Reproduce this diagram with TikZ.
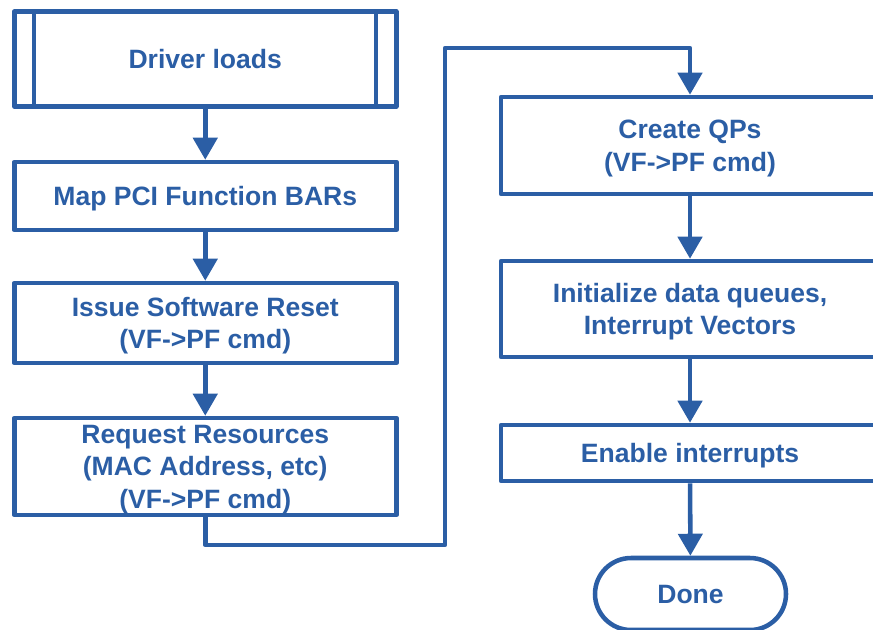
\documentclass[tikz,border=0pt]{standalone}
\usepackage{fontspec}
\setmainfont{Liberation Sans}
\usepackage{tikz}
\usepackage{xcolor}
\usetikzlibrary{positioning, arrows.meta, shapes.misc}

\definecolor{drvblue}{RGB}{43,94,165}

\tikzset{
  flowline/.style={draw=drvblue, line width=3.4pt, line join=round},
  flowarrow/.style={flowline, -{Triangle[length=16.5pt, width=18pt]}},
  flowbox/.style={flowline, rectangle, text=drvblue, align=center, inner sep=0pt,
    text depth=0pt, font=\bfseries\fontsize{19.9pt}{24.4pt}\selectfont},
  leftbox/.style={flowbox, minimum width=286.5pt},
  rightbox/.style={flowbox, minimum width=283.5pt},
  flowend/.style={flowbox, rounded rectangle, minimum width=143.25pt, minimum height=54pt}
}

\begin{document}
\begin{tikzpicture}[x=0.75pt,y=0.75pt,yscale=-1,xscale=1]
\useasboundingbox (0,0) rectangle (873,629);
%Flowchart: Predefined Process
\node[leftbox, minimum height=71.25pt] (drv) at (205.25,59) {Driver loads};
\draw[flowline] ([xshift=16.5pt]drv.north west) -- ([xshift=16.5pt]drv.south west);
\draw[flowline] ([xshift=-17pt]drv.north east) -- ([xshift=-17pt]drv.south east);
%Flowchart: Process
\node[leftbox, minimum height=51pt] (bars) at (205.25,196) {Map PCI Function BARs};
%Flowchart: Process
\node[leftbox, minimum height=60pt] (reset) at (205.25,323) {Issue Software Reset\\(VF->PF cmd)};
%Flowchart: Process
\node[leftbox, minimum height=72.75pt] (resrc) at (205.25,466.5) {Request Resources\\(MAC Address, etc)\\(VF->PF cmd)};
%Flowchart: Process
\node[rightbox, minimum height=72.75pt] (qps) at (690,145.5) {Create QPs\\(VF->PF cmd)};
%Flowchart: Process
\node[rightbox, minimum height=72pt] (initq) at (690,309) {Initialize data queues,\\Interrupt Vectors};
%Flowchart: Process
\node[rightbox, minimum height=42pt] (enint) at (690,453) {Enable interrupts};
%Flowchart: Terminator
\node[flowend] (done) at (690.5,594) {Done};

%Straight Lines
\draw[flowarrow] (drv) -- (bars);
\draw[flowarrow] (bars) -- (reset);
\draw[flowarrow] (reset) -- (resrc);
%Connector
\coordinate (lowturn) at (445,545);
\coordinate (highturn) at (445,48);
\draw[flowarrow] (resrc.south) |- (lowturn) -- (highturn) -| (qps.north);
%Straight Lines
\draw[flowarrow] (qps) -- (initq);
\draw[flowarrow] (initq) -- (enint);
\draw[flowarrow] (enint) -- (done);
\end{tikzpicture}
\end{document}
